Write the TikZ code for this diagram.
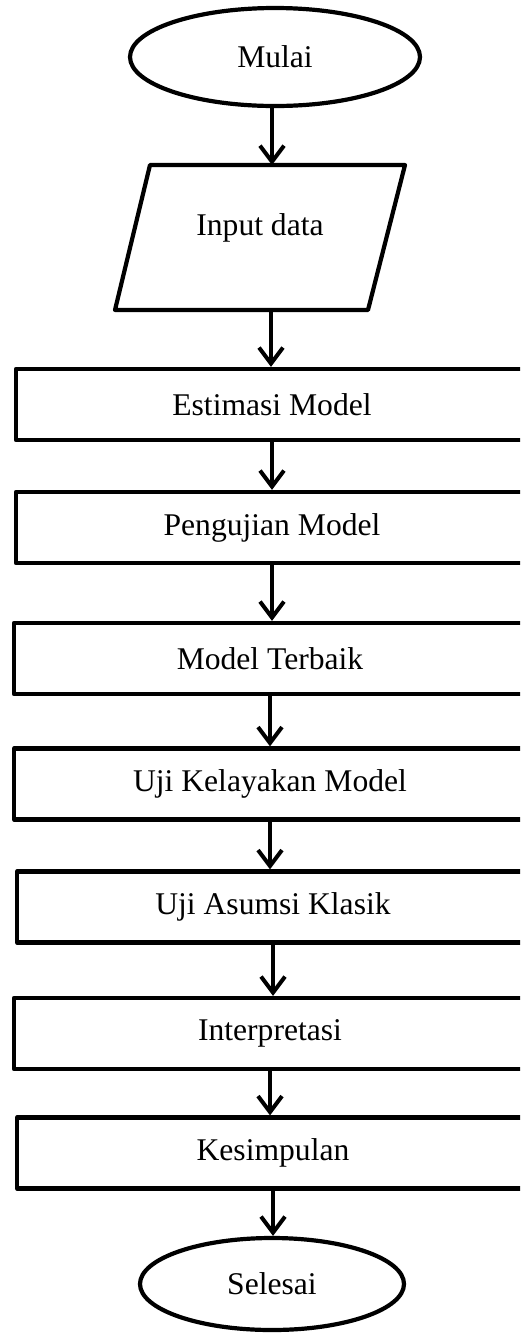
\documentclass[tikz,border=0pt]{standalone}
\usepackage{fontspec}
\setmainfont{Liberation Serif}
\usetikzlibrary{arrows.meta,shapes.geometric}

\begin{document}
\begin{tikzpicture}[x=0.5pt,y=-0.5pt,
  every node/.style={font=\fontsize{15.8}{19}\selectfont},
  garis/.style={line width=2.1pt,line join=round},
  proses/.style={draw,garis,minimum width=256pt,minimum height=35.5pt,inner sep=0pt},
  terminal/.style={draw,ellipse,garis,inner sep=0pt},
  alur/.style={line width=2pt,-{Straight Barb[length=8pt,width=12pt]}}]
  \useasboundingbox (0,0) rectangle (520,1334);
  \clip (0,0) rectangle (520,1334);
  \node[terminal,minimum width=145pt,minimum height=49pt] (mulai) at (275,57) {Mulai};
  \draw[garis] (150,165) -- (405,165) -- (368,310) -- (115,310) -- cycle;
  \node (input) at (260,228) {Input data};
  \coordinate (inputatas) at (272,165);
  \coordinate (inputbawah) at (271,310);
  \node[proses] (estimasi) at (272,404.5) {Estimasi Model};
  \node[proses] (pengujian) at (272,527.5) {Pengujian Model};
  \node[proses] (terbaik) at (270,658.5) {Model Terbaik};
  \node[proses] (kelayakan) at (270,784) {Uji Kelayakan Model};
  \node[proses] (asumsi) at (273,907) {Uji Asumsi Klasik};
  \node[proses] (interpretasi) at (270,1033.5) {Interpretasi};
  \node[proses] (kesimpulan) at (273,1153) {Kesimpulan};
  \node[terminal,minimum width=132pt,minimum height=46pt] (selesai) at (272,1284) {Selesai};

  \draw[alur] (mulai.south -| inputatas) -- (inputatas);
  \draw[alur] (inputbawah) -- (inputbawah |- estimasi.north);
  \foreach \a/\b in {estimasi/pengujian,pengujian/terbaik,terbaik/kelayakan,
    kelayakan/asumsi,asumsi/interpretasi,interpretasi/kesimpulan}
    \draw[alur] (\a.south) -- (\a.south |- \b.north);
  \draw[alur] (kesimpulan.south) -- (kesimpulan.south |- selesai.north);
\end{tikzpicture}
\end{document}
